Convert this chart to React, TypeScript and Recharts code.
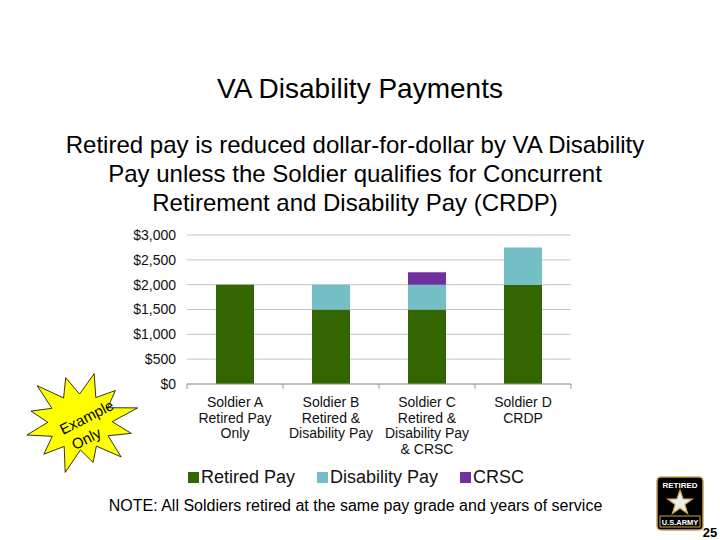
import React from "react";
import { BarChart, Bar, XAxis, YAxis, CartesianGrid } from "recharts";

const categories = [
  "Soldier A\nRetired Pay\nOnly",
  "Soldier B\nRetired &\nDisability Pay",
  "Soldier C\nRetired &\nDisability Pay\n& CRSC",
  "Soldier D\nCRDP",
];
const retiredPay = [2000, 1500, 1500, 2000];
const disabilityPay = [0, 500, 500, 750];
const crsc = [0, 0, 250, 0];
const yTicks = [0, 500, 1000, 1500, 2000, 2500, 3000];

const seriesNames = ["Retired Pay", "Disability Pay", "CRSC"];
const colors = ["#336600", "#74bfc6", "#7030a0"];

const data = categories.map((name, i) => ({
  name,
  retired: retiredPay[i],
  disability: disabilityPay[i],
  crsc: crsc[i],
}));

const FONT = "'Liberation Sans', Arial, sans-serif";

const XTick = (props: any) => {
  const { x, y, payload, index } = props;
  const lines = String(payload.value).split("\n");
  const half = 48;
  return (
    <g>
      <line x1={x - half} x2={x - half} y1={y} y2={y + 5} stroke="#999" />
      {index === categories.length - 1 && (
        <line x1={x + half} x2={x + half} y1={y} y2={y + 5} stroke="#999" />
      )}
      <text x={x} y={y} textAnchor="middle" fontSize={14} fill="#111" fontFamily={FONT}>
        {lines.map((l, i) => (
          <tspan key={i} x={x} y={y + 23 + i * 15.5}>
            {l}
          </tspan>
        ))}
      </text>
    </g>
  );
};

const starPoints = (() => {
  const cx = 80, cy = 422;
  const outer = [50, 44, 52, 46, 50, 42, 52, 45, 48, 44, 52, 46];
  const pts: string[] = [];
  const n = outer.length;
  for (let i = 0; i < n * 2; i++) {
    const ang = (i * Math.PI) / n - Math.PI / 2 + 0.25;
    const r = i % 2 === 0 ? outer[i / 2] : 28;
    pts.push(`${(cx + r * Math.cos(ang) * 1.15).toFixed(1)},${(cy + r * Math.sin(ang) * 1.0).toFixed(1)}`);
  }
  return pts.join(" ");
})();

const armyStar = (() => {
  const p: string[] = [];
  for (let i = 0; i < 10; i++) {
    const a = (i * Math.PI) / 5 - Math.PI / 2;
    const r = i % 2 === 0 ? 13 : 5.2;
    p.push(`${(680 + r * Math.cos(a)).toFixed(1)},${(503 + r * Math.sin(a)).toFixed(1)}`);
  }
  return p.join(" ");
})();

export default function App() {
  return (
    <div style={{ position: "absolute", left: 0, top: 0, width: 720, height: 540, background: "#fff", fontFamily: FONT, overflow: "hidden" }}>
      <div style={{ position: "absolute", top: 73, left: 0, width: 720, textAlign: "center", fontSize: 28, color: "#000" }}>
        VA Disability Payments
      </div>
      <div style={{ position: "absolute", top: 130, left: 0, width: 710, textAlign: "center", fontSize: 24, lineHeight: "29px", color: "#000" }}>
        Retired pay is reduced dollar-for-dollar by VA Disability
        <br />
        Pay unless the Soldier qualifies for Concurrent
        <br />
        Retirement and Disability Pay (CRDP)
      </div>

      <div style={{ position: "absolute", left: 0, top: 0 }}>
        <BarChart
          width={720}
          height={540}
          data={data}
          margin={{ top: 235, right: 149, left: 127, bottom: 76 }}
          barSize={38}
        >
          <CartesianGrid vertical={false} stroke="#c4c4c4" />
          <XAxis
            dataKey="name"
            interval={0}
            height={80}
            tickSize={0}
            tickMargin={0}
            axisLine={{ stroke: "#999" }}
            tick={<XTick />}
          />
          <YAxis
            width={60}
            domain={[0, 3000]}
            ticks={yTicks}
            axisLine={false}
            tickLine={false}
            tickMargin={5}
            tick={{ fontSize: 14, fill: "#111", fontFamily: FONT }}
            tickFormatter={(v: number) => `$${v.toLocaleString("en-US")}`}
          />
          <Bar dataKey="retired" name={seriesNames[0]} stackId="a" fill={colors[0]} isAnimationActive={false} />
          <Bar dataKey="disability" name={seriesNames[1]} stackId="a" fill={colors[1]} isAnimationActive={false} />
          <Bar dataKey="crsc" name={seriesNames[2]} stackId="a" fill={colors[2]} isAnimationActive={false} />
        </BarChart>
      </div>

      <div style={{ position: "absolute", top: 466, left: 0, width: 712, display: "flex", justifyContent: "center", gap: 22, fontSize: 18, color: "#111", lineHeight: "22px" }}>
        {seriesNames.map((s, i) => (
          <div key={s} style={{ display: "flex", alignItems: "center" }}>
            <span style={{ display: "inline-block", width: 11, height: 11, background: colors[i], marginRight: 2 }} />
            <span>{s}</span>
          </div>
        ))}
      </div>

      <div style={{ position: "absolute", top: 497, left: 0, width: 711, textAlign: "center", fontSize: 16, color: "#000" }}>
        NOTE: All Soldiers retired at the same pay grade and years of service
      </div>

      <svg style={{ position: "absolute", left: 0, top: 0 }} width={720} height={540}>
        <polygon points={starPoints} fill="#ffff00" stroke="#000" strokeWidth={0.8} />
        <g transform="rotate(-27 84 421)" fontFamily={FONT} fontSize={15} fill="#000" textAnchor="middle">
          <text x={88} y={424}>Example</text>
          <text x={78} y={443}>Only</text>
        </g>

        <rect x={657} y={477} width={46} height={53} rx={4} fill="#000" stroke="#c9a24a" strokeWidth={1.5} />
        <text x={680} y={488} textAnchor="middle" fontFamily={FONT} fontWeight="bold" fontSize={8} fill="#fff">RETIRED</text>
        <polygon points={armyStar} fill="#eee" stroke="#c9a24a" strokeWidth={1.2} />
        <rect x={660} y={516} width={40} height={11} fill="#000" stroke="#c9a24a" strokeWidth={1} />
        <text x={680} y={525} textAnchor="middle" fontFamily={FONT} fontWeight="bold" fontSize={7.5} fill="#fff">U.S.ARMY</text>
        <text x={710} y={537} textAnchor="middle" fontFamily={FONT} fontWeight="bold" fontSize={13} fill="#000">25</text>
      </svg>
    </div>
  );
}
